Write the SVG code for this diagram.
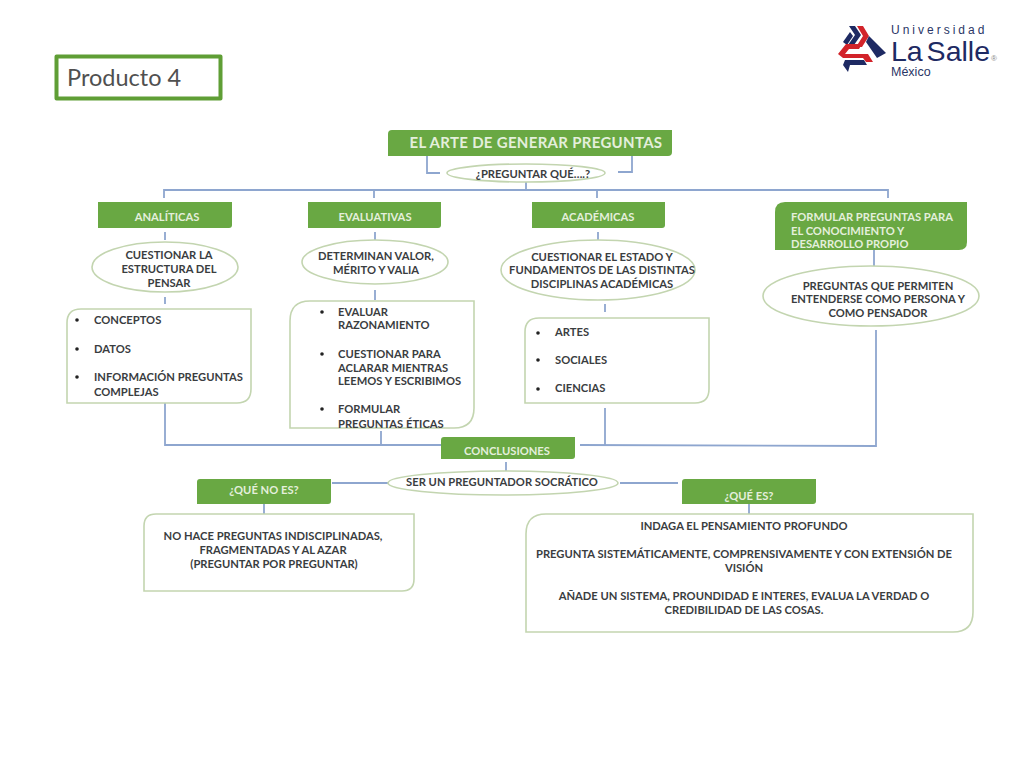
<svg xmlns="http://www.w3.org/2000/svg" width="1024" height="768" viewBox="0 0 1024 768">
<style>
text{font-family:"Lato","Open Sans","Liberation Sans",sans-serif;font-weight:700;font-size:11.2px;fill:#3a3d3f}
.c{text-anchor:middle}
.w{fill:#e4efdc}
.g{fill:#69a843}
.o{fill:#fff;stroke:#c3d5b0;stroke-width:1.6}
.l{fill:none;stroke:#8ea6cf;stroke-width:1.8}
.b{fill:#222}
.n{fill:#1e2a63}
.r{fill:#d2232a}
.logo{font-family:"Liberation Sans",sans-serif;font-weight:400;fill:#2a3566}
</style>
<rect width="1024" height="768" fill="#fff"/>
<g id="producto"><rect x="56.500" y="56.500" width="164" height="42" fill="#fff" stroke="#5f9e35" stroke-width="4" stroke-linejoin="round"/><text x="67" y="86" style="font-size:23.500px;font-weight:400;fill:#505050">Producto 4</text></g>
<g id="logo">
<polygon class="n" points="849,26 855,26 861,35 854,45 848,45 855,35"/>
<polygon class="r" points="857,26 863,26 869,36 862,47 856,47 863,36"/>
<polygon class="n" points="843,42 850,32 853,36 847,45"/>
<polygon class="n" points="869,36 886,53 877,58 866,42"/>
<polygon class="r" points="838,54 846,44 862,44 859,49 849,49 845,54 868,54 873,62 866,62 863,58 843,58"/>
<polygon class="n" points="845,60 864,60 867,65 850,65 848,72 843,65"/>
<text x="891" y="34" class="logo" style="font-size:12px;letter-spacing:3px">Universidad</text>
<text x="891" y="61" class="logo" style="font-size:28.500px;letter-spacing:0;word-spacing:-4px;fill:#1e2a63">La Salle</text>
<text x="991" y="61" class="logo" style="font-size:8px;fill:#888">®</text>
<text x="891" y="76" class="logo" style="font-size:12.500px">México</text>
</g>
<g id="connectors" class="l">
<path d="M427 156V173H440M632 156V172H618"/>
<path d="M164 198V190H888V198M526 182V190M374 190V198M597 190V198"/>
<path d="M165 232V240M375 232V240M598 232V240M874 250V266M165 297V304M375 290V300M605 304V312"/>
<path d="M165 403V445H441M381 431V445M605 408V446M876 330V446L580 445"/>
<path d="M506 462V472M332 483H388M620 483H678M264 504V514M749 504V514"/>
</g>
<g id="titulo"><path class="g" d="M392 130H672V152Q672 156 668 156H388V134Q388 130 392 130Z"/><text x="536" y="148" class="c w" style="font-size:15px;letter-spacing:0.3px">EL ARTE DE GENERAR PREGUNTAS</text></g>
<g id="preguntar"><ellipse class="o" cx="526" cy="173" rx="79" ry="9"/><text x="533" y="178" class="c">¿PREGUNTAR QUÉ….?</text></g>
<g id="analiticas"><path class="g" d="M98 202H232V225Q232 228 229 228H98Z"/><text x="167" y="221" class="c w">ANALÍTICAS</text></g>
<g id="evaluativas"><path class="g" d="M308 202H441V225Q441 228 438 228H308Z"/><text x="375" y="221" class="c w">EVALUATIVAS</text></g>
<g id="academicas"><path class="g" d="M532 202H665V225Q665 228 662 228H532Z"/><text x="598" y="221" class="c w">ACADÉMICAS</text></g>
<g id="formular"><path class="g" d="M785 202H967V242Q967 250 959 250H775V212Q775 202 785 202Z"/><text x="791" y="221" class="w">FORMULAR PREGUNTAS PARA</text><text x="791" y="235" class="w">EL CONOCIMIENTO Y</text><text x="791" y="248" class="w">DESARROLLO PROPIO</text></g>
<g id="e1"><ellipse class="o" cx="165" cy="267" rx="73" ry="25"/><text x="169" y="259" class="c">CUESTIONAR LA</text><text x="169" y="273" class="c">ESTRUCTURA DEL</text><text x="169" y="287" class="c">PENSAR</text></g>
<g id="e2"><ellipse class="o" cx="375" cy="262" rx="73" ry="22"/><text x="376" y="260" class="c">DETERMINAN VALOR,</text><text x="376" y="274" class="c">MÉRITO Y VALIA</text></g>
<g id="e3"><ellipse class="o" cx="598" cy="270" rx="97" ry="30"/><text x="602" y="261" class="c">CUESTIONAR EL ESTADO Y</text><text x="602" y="274" class="c">FUNDAMENTOS DE LAS DISTINTAS</text><text x="602" y="288" class="c">DISCIPLINAS ACADÉMICAS</text></g>
<g id="e4"><ellipse class="o" cx="871" cy="296" rx="108" ry="30"/><text x="878" y="290" class="c">PREGUNTAS QUE PERMITEN</text><text x="878" y="303" class="c">ENTENDERSE COMO PERSONA Y</text><text x="878" y="317" class="c">COMO PENSADOR</text></g>
<g id="lista1"><path class="o" d="M81 309H251V389Q251 403 237 403H67V323Q67 309 81 309Z"/>
<circle class="b" cx="77" cy="320" r="1.800"/><circle class="b" cx="77" cy="349" r="1.800"/><circle class="b" cx="77" cy="377" r="1.800"/>
<text x="94" y="324">CONCEPTOS</text><text x="94" y="353">DATOS</text><text x="94" y="381">INFORMACIÓN PREGUNTAS</text><text x="94" y="396">COMPLEJAS</text></g>
<g id="lista2"><path class="o" d="M310 301H474V408Q474 428 454 428H290V321Q290 301 310 301Z"/>
<circle class="b" cx="322" cy="312" r="1.800"/><circle class="b" cx="322" cy="354" r="1.800"/><circle class="b" cx="322" cy="409" r="1.800"/>
<text x="338" y="316">EVALUAR</text><text x="338" y="329">RAZONAMIENTO</text><text x="338" y="358">CUESTIONAR PARA</text><text x="338" y="372">ACLARAR MIENTRAS</text><text x="338" y="385">LEEMOS Y ESCRIBIMOS</text><text x="338" y="413">FORMULAR</text><text x="338" y="428">PREGUNTAS ÉTICAS</text></g>
<g id="lista3"><path class="o" d="M539 318H709V389Q709 403 695 403H525V332Q525 318 539 318Z"/>
<circle class="b" cx="538" cy="333" r="1.800"/><circle class="b" cx="538" cy="360" r="1.800"/><circle class="b" cx="538" cy="389" r="1.800"/>
<text x="555" y="336">ARTES</text><text x="555" y="364">SOCIALES</text><text x="555" y="392">CIENCIAS</text></g>
<g id="conclusiones"><path class="g" d="M444 437H575V456Q575 459 572 459H441V440Q441 437 444 437Z"/><text x="507" y="455" class="c w">CONCLUSIONES</text></g>
<g id="socratico"><ellipse class="o" cx="503" cy="483" rx="115" ry="12"/><text x="502" y="486" class="c">SER UN PREGUNTADOR SOCRÁTICO</text></g>
<g id="noes"><path class="g" d="M200 479H331V501Q331 504 328 504H197V482Q197 479 200 479Z"/><text x="264" y="494" class="c w">¿QUÉ NO ES?</text></g>
<g id="es"><path class="g" d="M685 479H816V501Q816 504 813 504H682V482Q682 479 685 479Z"/><text x="749" y="500" class="c w">¿QUÉ ES?</text></g>
<g id="caja-no"><path class="o" d="M156 514H414V579Q414 591 402 591H144V526Q144 514 156 514Z"/><text x="273" y="540" class="c">NO HACE PREGUNTAS INDISCIPLINADAS,</text><text x="273" y="554" class="c">FRAGMENTADAS Y AL AZAR</text><text x="274" y="568" class="c">(PREGUNTAR POR PREGUNTAR)</text></g>
<g id="caja-si"><path class="o" d="M546 514H973V612Q973 632 953 632H526V534Q526 514 546 514Z"/><text x="744" y="530" class="c">INDAGA EL PENSAMIENTO PROFUNDO</text><text x="744" y="558" class="c">PREGUNTA SISTEMÁTICAMENTE, COMPRENSIVAMENTE Y CON EXTENSIÓN DE</text><text x="744" y="572" class="c">VISIÓN</text><text x="744" y="600" class="c">AÑADE UN SISTEMA, PROUNDIDAD E INTERES, EVALUA LA VERDAD O</text><text x="744" y="614" class="c">CREDIBILIDAD DE LAS COSAS.</text></g>
</svg>
